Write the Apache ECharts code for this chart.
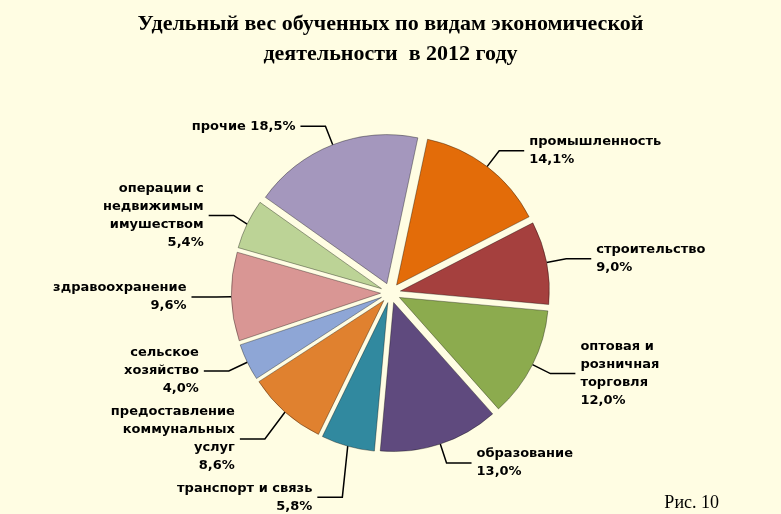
<!DOCTYPE html>
<html><head><meta charset="utf-8">
<script src="https://cdn.jsdelivr.net/npm/echarts@6/dist/echarts.min.js"></script>
<style>html,body{margin:0;background:#FFFDE3}#c{width:781px;height:514px}</style>
</head><body><div id="c"></div>
<script>
var names = ['промышленность','строительство','оптовая и\nрозничная\nторговля','образование','транспорт и связь',
  'предоставление\nкоммунальных\nуслуг','сельское\nхозяйство','здравоохранение','операции с\nнедвижимым\nимушеством','прочие'];
var values = [14.1,9.0,12.0,13.0,5.8,8.6,4.0,9.6,5.4,18.5];
var colors = ['#E36C09','#A5403E','#8CAB4E','#5F4A7E','#31899F','#E0812F','#8EA6D6','#D99694','#BCD396','#A497BD'];
var data = names.map(function(n,i){ return {name:n, value:values[i], selected:true, itemStyle:{color:colors[i]}}; });
var chart = echarts.init(document.getElementById('c'));
chart.setOption({
  backgroundColor:'#FFFDE3',
  title:{text:'Удельный вес обученных по видам экономической\nдеятельности  в 2012 году',left:'center',top:4,
    textStyle:{fontFamily:'Liberation Serif',fontSize:22,fontWeight:'bold',color:'#000',lineHeight:30}},
  graphic:[{type:'text',right:62,bottom:2,style:{text:'Рис. 10',font:'18px "Liberation Serif"',fill:'#000'}}],
  series:[{
    type:'pie', center:['50%','57%'], radius:'58%', startAngle:78,
    selectedMode:'multiple', selectedOffset:10,
    data:data,
    itemStyle:{borderColor:'rgba(0,0,0,0.35)',borderWidth:1},
    label:{color:'#000',fontFamily:'DejaVu Sans',fontSize:13,fontWeight:'bold',lineHeight:18,
      formatter:function(p){ var v=p.value.toFixed(1).replace('.',','); return p.name.indexOf('\n')<0&&p.name.length<8?p.name+' '+v+'%':p.name+'\n'+v+'%'; }},
    labelLine:{length:20,length2:25,lineStyle:{color:'#000',width:1.5}},
    emphasis:{disabled:true}
  }]
});
</script></body></html>
